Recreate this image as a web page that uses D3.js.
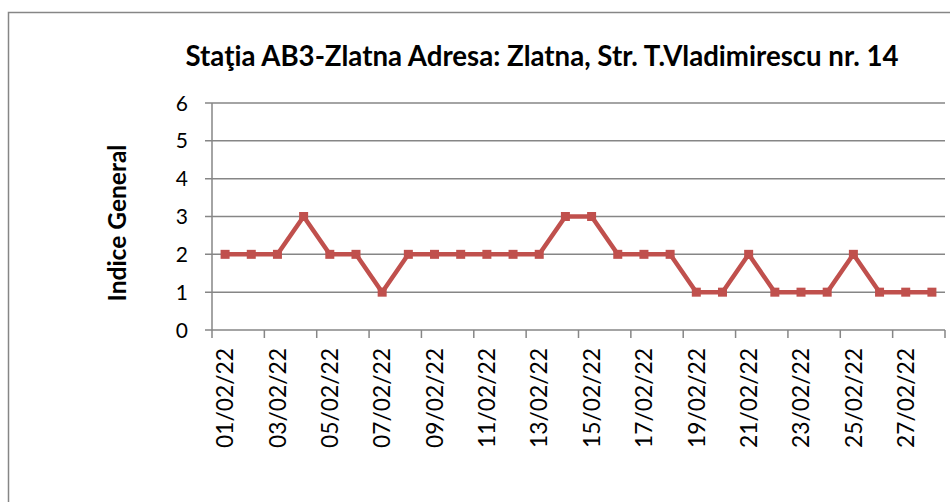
<!DOCTYPE html>
<html lang="ro">
<head>
  <meta charset="UTF-8">
  <title>Staţia AB3-Zlatna</title>
  <style>
    html, body { margin: 0; padding: 0; background: #fff; }
    svg { display: block; font-family: Lato, "Open Sans", sans-serif; }
  </style>
</head>
<body>
  <svg id="chart" width="950" height="502"></svg>

  <script src="https://d3js.org/d3.v7.min.js"></script>
  <script>
    // date ale graficului
    const titlu = "Staţia AB3-Zlatna Adresa: Zlatna, Str. T.Vladimirescu nr. 14";
    const titluAxaY = "Indice General";
    const zile = ["01/02/22", "02/02/22", "03/02/22", "04/02/22", "05/02/22", "06/02/22", "07/02/22",
      "08/02/22", "09/02/22", "10/02/22", "11/02/22", "12/02/22", "13/02/22", "14/02/22",
      "15/02/22", "16/02/22", "17/02/22", "18/02/22", "19/02/22", "20/02/22", "21/02/22",
      "22/02/22", "23/02/22", "24/02/22", "25/02/22", "26/02/22", "27/02/22", "28/02/22"];
    const indice = [2, 2, 2, 3, 2, 2, 1, 2, 2, 2, 2, 2, 2, 3, 3, 2, 2, 2, 1, 1, 2, 1, 1, 1, 2, 1, 1, 1];
    const ticksY = [0, 1, 2, 3, 4, 5, 6];

    const svg = d3.select("#chart");
    const gri = "#868686";
    const rosu = "#c0504d";

    // chenarul graficului
    svg.append("rect")
      .attr("x", 8.5).attr("y", 12.5)
      .attr("width", 960).attr("height", 520)
      .attr("fill", "none").attr("stroke", gri).attr("stroke-width", 1.5);

    const plotLeft = 212, plotRight = 945, plotTop = 103, plotBottom = 330;

    const x = d3.scaleBand().domain(zile).range([plotLeft, plotRight]);
    const y = d3.scaleLinear().domain([0, 6]).range([plotBottom, plotTop]);

    // potriveste marimea fontului la o latime data
    function fit(sel, width) {
      const w = sel.node().getComputedTextLength();
      const fs = parseFloat(sel.attr("font-size"));
      sel.attr("font-size", fs * width / w);
    }

    // linii de grila orizontale
    svg.append("g")
      .selectAll("line")
      .data(ticksY)
      .join("line")
      .attr("x1", plotLeft - 7).attr("x2", plotRight)
      .attr("y1", d => y(d)).attr("y2", d => y(d))
      .attr("stroke", gri).attr("stroke-width", 1.5);

    // axa Y
    svg.append("line")
      .attr("x1", plotLeft).attr("x2", plotLeft)
      .attr("y1", plotTop).attr("y2", plotBottom)
      .attr("stroke", gri).attr("stroke-width", 1.5);

    svg.append("g")
      .selectAll("text")
      .data(ticksY)
      .join("text")
      .attr("x", 188)
      .attr("y", d => y(d))
      .attr("dy", "0.36em")
      .attr("text-anchor", "end")
      .attr("font-size", 21)
      .attr("fill", "#000")
      .text(d => d);

    // tick-uri axa X, la fiecare doua categorii
    const ticksX = d3.range(0, zile.length + 1, 2).map(i => plotLeft + i * x.step());
    svg.append("g")
      .selectAll("line")
      .data(ticksX)
      .join("line")
      .attr("x1", d => d).attr("x2", d => d)
      .attr("y1", plotBottom).attr("y2", plotBottom + 8)
      .attr("stroke", gri).attr("stroke-width", 1.5);

    const labels = svg.append("g")
      .selectAll("text")
      .data(zile.filter((d, i) => i % 2 === 0))
      .join("text")
      .attr("transform", d => `translate(${x(d) + x.bandwidth() / 2},348) rotate(-90)`)
      .attr("dy", "0.36em")
      .attr("text-anchor", "end")
      .attr("font-size", 20)
      .attr("fill", "#000")
      .text(d => d);
    const lw = labels.node().getComputedTextLength();
    labels.attr("font-size", 20 * 100 / lw);

    // linia seriei
    const linie = d3.line()
      .x((d, i) => x(zile[i]) + x.bandwidth() / 2)
      .y(d => y(d));

    svg.append("path")
      .datum(indice)
      .attr("d", linie)
      .attr("fill", "none")
      .attr("stroke", rosu)
      .attr("stroke-width", 4.5)
      .attr("stroke-linejoin", "round");

    svg.append("g")
      .selectAll("rect")
      .data(indice)
      .join("rect")
      .attr("x", (d, i) => x(zile[i]) + x.bandwidth() / 2 - 4.5)
      .attr("y", d => y(d) - 4.5)
      .attr("width", 9).attr("height", 9)
      .attr("fill", rosu);

    // titlu
    const t = svg.append("text")
      .attr("x", 542).attr("y", 66)
      .attr("text-anchor", "middle")
      .attr("font-size", 20)
      .attr("font-weight", "bold")
      .attr("fill", "#000")
      .text(titlu);
    fit(t, 713);

    // titlu axa Y
    const ty = svg.append("text")
      .attr("transform", "translate(117,223) rotate(-90)")
      .attr("text-anchor", "middle")
      .attr("dy", "0.35em")
      .attr("font-size", 18)
      .attr("font-weight", "bold")
      .attr("fill", "#000")
      .text(titluAxaY);
    fit(ty, 157);
  </script>
</body>
</html>
